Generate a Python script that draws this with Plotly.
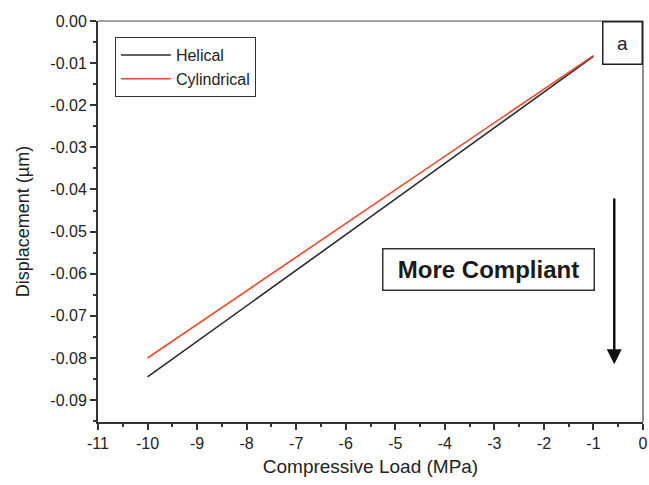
import plotly.graph_objects as go

load_mpa = [-10, -9, -8, -7, -6, -5, -4, -3, -2, -1]
helical = [-0.0845, -0.0761, -0.0676, -0.0592, -0.0507, -0.0423, -0.0338, -0.0254, -0.0169, -0.0084]
cylindrical = [-0.0800, -0.0720, -0.0641, -0.0561, -0.0481, -0.0402, -0.0322, -0.0242, -0.0162, -0.0082]

x_ticks = [-11, -10, -9, -8, -7, -6, -5, -4, -3, -2, -1, 0]
y_ticks = [0.00, -0.01, -0.02, -0.03, -0.04, -0.05, -0.06, -0.07, -0.08, -0.09]
y_tick_labels = ["0.00", "-0.01", "-0.02", "-0.03", "-0.04", "-0.05", "-0.06", "-0.07", "-0.08", "-0.09"]

font_family = "Liberation Sans, Arial, sans-serif"

fig = go.Figure()
fig.add_trace(go.Scatter(x=load_mpa, y=helical, mode="lines", name="Helical",
                         line=dict(color="#2b2b2b", width=1.6)))
fig.add_trace(go.Scatter(x=load_mpa, y=cylindrical, mode="lines", name="Cylindrical",
                         line=dict(color="#ec4a2a", width=1.6)))

fig.update_layout(
    width=649, height=485,
    margin=dict(l=98, r=6, t=21, b=63, autoexpand=False),
    paper_bgcolor="white", plot_bgcolor="white",
    font=dict(family=font_family, color="#222", size=16),
    showlegend=True,
    legend=dict(x=0.031, y=0.96, xanchor="left", yanchor="top",
                bordercolor="#333", borderwidth=1, bgcolor="white",
                font=dict(size=16, color="#222"), tracegroupgap=0,
                itemwidth=50),
    xaxis=dict(range=[-11, 0], tickvals=x_ticks, ticktext=[str(v) for v in x_ticks],
               showgrid=False, zeroline=False, showline=True, linecolor="#333", linewidth=2,
               ticks="outside", ticklen=6, tickwidth=2, tickcolor="#333",
               minor=dict(dtick=0.5, ticks="outside", ticklen=3, tickwidth=2, tickcolor="#333", showgrid=False),
               mirror=False, ticklabeloverflow="allow", automargin=False,
               title=dict(text="Compressive Load (MPa)", font=dict(size=19), standoff=8),
               tickfont=dict(size=16)),
    yaxis=dict(range=[-0.0952, 0.0], tickvals=y_ticks, ticktext=y_tick_labels,
               showgrid=False, zeroline=False, showline=True, linecolor="#333", linewidth=2,
               ticks="outside", ticklen=6, tickwidth=2, tickcolor="#333",
               minor=dict(dtick=0.005, ticks="outside", ticklen=3, tickwidth=2, tickcolor="#333", showgrid=False),
               automargin=False,
               title=dict(text="Displacement (µm)", font=dict(size=18), standoff=16),
               tickfont=dict(size=16)),
)

# thin top/right frame
fig.add_shape(type="line", xref="paper", yref="paper", x0=0, x1=1, y0=1, y1=1,
              line=dict(color="#444", width=1.2))
fig.add_shape(type="line", xref="paper", yref="paper", x0=1, x1=1, y0=0, y1=1,
              line=dict(color="#444", width=1.2))

# panel label
fig.add_annotation(xref="paper", yref="paper", x=1, y=1, xanchor="right", yanchor="top",
                   text="a", showarrow=False, font=dict(size=19, color="#222"),
                   bordercolor="#222", borderwidth=1.5, borderpad=0, bgcolor="white",
                   width=38, height=41)

# "More Compliant" box
fig.add_annotation(x=-3.12, y=-0.059, xref="x", yref="y", text="<b>More Compliant</b>",
                   showarrow=False, font=dict(size=24, color="#1a1a1a"),
                   bordercolor="#333", borderwidth=1.5, borderpad=0, bgcolor="white",
                   width=210, height=40)

# arrow
fig.add_annotation(x=-0.58, y=-0.0815, ax=-0.58, ay=-0.0418, xref="x", yref="y",
                   axref="x", ayref="y", text="", showarrow=True,
                   arrowhead=2, arrowsize=1.2, arrowwidth=2.5, arrowcolor="#111")

fig.write_html("out.html", config={"displayModeBar": False},
               post_script="document.body.style.margin='0';document.body.style.overflow='hidden';")
